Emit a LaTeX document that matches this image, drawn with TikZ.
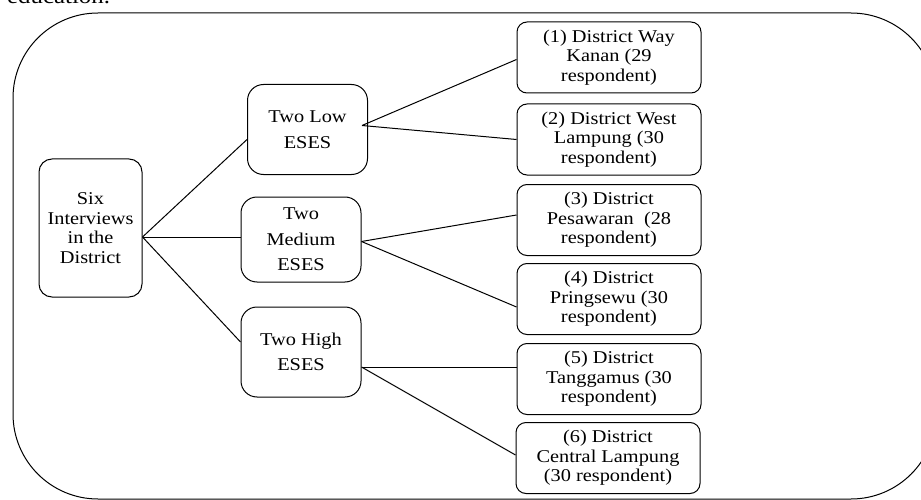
\documentclass[tikz,border=0pt]{standalone}
\usepackage{fontspec}
\newfontfamily\boxfont[FakeStretch=1.13]{Liberation Serif}
\usetikzlibrary{positioning,calc}
\tikzset{
  base/.style={draw,rounded corners=10pt,align=center,inner sep=0pt,line width=1pt,
    font=\boxfont\fontsize{18}{19.5}\selectfont},
  dbox/.style={base,minimum width=184pt,minimum height=71pt},
  gbox/.style={base,rounded corners=16pt,minimum width=120pt,minimum height=90pt,
    font=\boxfont\fontsize{18}{25.5}\selectfont},
  sbox/.style={base,rounded corners=13pt,minimum width=103pt,minimum height=138pt},
  link/.style={line width=1pt}
}
\begin{document}
\begin{tikzpicture}[x=1pt,y=-1pt]
\useasboundingbox (0,0) rectangle (921,500);
\node[anchor=base west,inner sep=0pt,font=\boxfont\fontsize{22}{24}\selectfont] (cap) at (7,4) {education.};
\draw[line width=1pt,rounded corners=85pt] (13,13) rectangle (936,499);
% left and middle column
\node[sbox] (six) at (90.5,228) {Six\\Interviews\\in the\\District};
\node[gbox] (low) at (307.5,129.5) {Two Low\\ESES};
\node[gbox,minimum height=85pt] (med) at (301,239.5) {Two\\Medium\\ESES};
\node[gbox] (high) at (301,352) {Two High\\ESES};
% districts
\node[dbox] (d1) at (609,57.5) {(1) District Way\\Kanan (29\\respondent)};
\node[dbox] (d2) at (609,139.5) {(2) District West\\Lampung (30\\respondent)};
\node[dbox] (d3) at (609,220) {(3) District\\Pesawaran~ (28\\respondent)};
\node[dbox] (d4) at (609,299) {(4) District\\Pringsewu (30\\respondent)};
\node[dbox] (d5) at (609,379) {(5) District\\Tanggamus (30\\respondent)};
\node[dbox] (d6) at (608,458) {(6) District\\Central Lampung\\(30 respondent)};
\coordinate (sp) at ([yshift=-9pt]six.east);
\draw[link] (sp) -- ([yshift=-10pt]low.west);
\draw[link] (sp) -- (sp -| med.west);
\draw[link] (sp) -- ([yshift=10pt]high.west);
\coordinate (lp) at ([xshift=-6pt,yshift=4pt]low.east);
\draw[link] (lp) -- ([yshift=-2pt]d1.west);
\draw[link] (lp) -- (d2.west);
\coordinate (mp) at ([yshift=-2pt]med.east);
\draw[link] (mp) -- ([yshift=5pt]d3.west);
\draw[link] (mp) -- ([yshift=-8pt]d4.west);
\coordinate (hp) at ([yshift=-15pt]high.east);
\draw[link] (hp) -- (hp -| d5.west);
\draw[link] (hp) -- ([yshift=3pt]d6.west);
\end{tikzpicture}
\end{document}
